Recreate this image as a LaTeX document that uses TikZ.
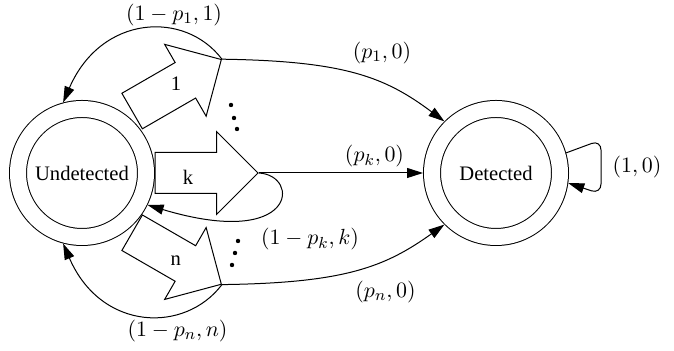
\documentclass[tikz,border=0pt]{standalone}
\usepackage{fontspec}
\setmainfont{Liberation Serif}
\usetikzlibrary{arrows.meta,shapes.arrows}
\tikzset{
  state/.style={circle, draw, double, double distance=8pt, minimum size=64pt, outer sep=4.5pt, font=\fontsize{10.3}{12}\selectfont},
  blockarrow/.style={single arrow, draw, fill=white, minimum height=51.5pt, single arrow head extend=10.5pt, inner xsep=0pt, inner ysep=10pt, anchor=tail},
  arrlabel/.style={font=\fontsize{10.3}{12}\selectfont},
  edgelabel/.style={font=\fontsize{11.3}{13}\selectfont},
  trans/.style={-{Triangle[length=8pt,width=5pt]}}
}
\begin{document}
\begin{tikzpicture}[x=0.5pt,y=0.5pt,line width=0.5pt]
  \useasboundingbox (0,0) rectangle (674,351);
  % the two states
  \node[state] (undet) at (82,178) {Undetected};
  \node[state] (det) at (496,178) {Detected};

  % one block arrow per action
  \node[blockarrow, rotate=30] (a1) at (131.7,239.7) {};
  \node[blockarrow] (ak) at (154.5,178) {};
  \node[blockarrow, rotate=-30] (an) at (131.7,118.5) {};
  \node[arrlabel] (l1) at (176,267.7) {1};
  \node[arrlabel] (lk) at (188,174) {k};
  \node[arrlabel] (ln) at (175.7,90) {n};

  % dots between the actions
  \foreach \p in {(231,246),(234,233),(237,222),(238,110),(235,98),(232,86)}
    \fill \p circle (1.1pt);

  % transitions
  \draw[trans] (a1.tip) .. controls (345,290) and (385,274) .. (det.135);
  \draw[trans] (ak.tip) -- (det.west);
  \draw[trans] (an.tip) .. controls (345,68) and (385,84) .. (det.225);
  \draw[trans, rounded corners=5pt] (det.16) -- (601,211) -- (601,157) -- (det.-8);
  \draw[trans] (a1.tip) .. controls +(-37,49) and +(38,88) .. (undet.105);
  \draw[trans] (an.tip) .. controls +(-37,-49) and +(38,-88) .. (undet.-105);
  \draw[trans] (ak.tip) .. controls +(42,-2) and +(150,-45) .. (undet.-26);

  \node[edgelabel] (e1) at (174,336) {$(1-p_1,1)$};
  \node[edgelabel] (e2) at (382,298) {$(p_1,0)$};
  \node[edgelabel] (e3) at (374.5,195) {$(p_k,0)$};
  \node[edgelabel] (e4) at (310,112) {$(1-p_k,k)$};
  \node[edgelabel] (e5) at (385.5,59) {$(p_n,0)$};
  \node[edgelabel] (e6) at (177.5,20) {$(1-p_n,n)$};
  \node[edgelabel] (e7) at (637,184) {$(1,0)$};
\end{tikzpicture}
\end{document}
